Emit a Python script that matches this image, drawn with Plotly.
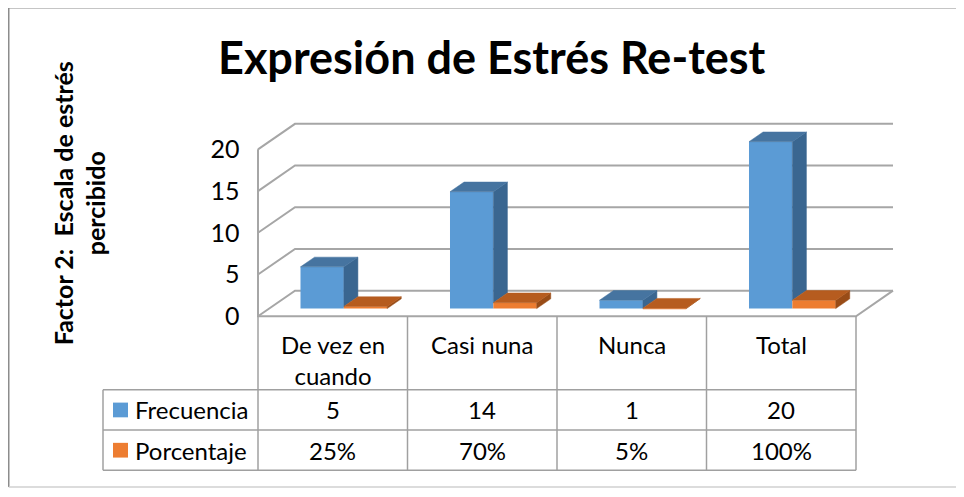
import plotly.graph_objects as go

# data
categorias = ["De vez en<br>cuando", "Casi nuna", "Nunca", "Total"]
frecuencia = [5, 14, 1, 20]
porcentaje = [0.25, 0.70, 0.05, 1.00]
porcentaje_txt = ["25%", "70%", "5%", "100%"]
series = ["Frecuencia", "Porcentaje"]
y_ticks = [0, 5, 10, 15, 20]

# page body has an 8px margin, so the figure is shifted by OFF
OFF = 8
W, H = 964 - OFF, 497 - OFF
FONT = "Lato"

# pseudo-3D layout (pixels of the front plane, page coordinates)
X0, COLW = 258, 149.5      # px of x=-0.5, px per category
Y0, UNIT = 322, 8.5        # px of value 0, px per unit
DX, DY = 37 / COLW, 26 / UNIT   # depth offset of back wall in data units
D0, D1 = 0.3, 0.68         # bar depth (front / back)
BW = 0.29                  # bar width

BLUE = dict(front="#5B9BD5", top="#4674A0", side="#3A6690")
ORANGE = dict(front="#ED7D31", top="#B65C1F", side="#994C17")
GRID = "#A6A6A6"


def px(x):
    return X0 + (x + 0.5) * COLW


def pxx(p):
    return (p - OFF) / W


def pyy(p):
    return 1 - (p - OFF) / H


def note(text, x, y, size, xanchor="center", yanchor="middle", **kw):
    return dict(text=text, x=x, y=y, xref="paper", yref="paper", showarrow=False,
                xanchor=xanchor, yanchor=yanchor,
                font=dict(size=size, color="#000000", family=FONT), **kw)


x_range = [-0.55, 3.8]
y_range = [-0.6, 23.5]

fig = go.Figure()

base = D0 * DY
xs = D0 * DX
ddx, ddy = (D1 - D0) * DX, (D1 - D0) * DY
idx = list(range(len(frecuencia)))

# front faces
fig.add_trace(go.Bar(x=idx, y=frecuencia, base=base, width=BW, offset=-BW + xs,
                     marker=dict(color=BLUE["front"], line=dict(width=0)),
                     name=series[0], hoverinfo="skip"))
fig.add_trace(go.Bar(x=idx, y=porcentaje, base=base, width=BW, offset=xs,
                     marker=dict(color=ORANGE["front"], line=dict(width=0)),
                     name=series[1], hoverinfo="skip"))


def faces(vals, lefts, floor_under):
    side_x, side_y, top_x, top_y = [], [], [], []
    for v, xl, fl in zip(vals, lefts, floor_under):
        xr = xl + BW
        side_x += [xr, xr + ddx, xr + ddx, xr, xr, None]
        side_y += [base + fl, base + fl + ddy, base + v + ddy, base + v, base + fl, None]
        top_x += [xl, xr, xr + ddx, xl + ddx, xl, None]
        top_y += [base + v, base + v, base + v + ddy, base + v + ddy, base + v, None]
    return side_x, side_y, top_x, top_y


def add_faces(vals, lefts, floor_under, col):
    sx, sy, tx, ty = faces(vals, lefts, floor_under)
    for xx, yy, c in [(sx, sy, col["side"]), (tx, ty, col["top"])]:
        fig.add_trace(go.Scatter(x=xx, y=yy, mode="lines", fill="toself",
                                 fillcolor=c, line=dict(color=c, width=0.5),
                                 hoverinfo="skip", showlegend=False))


# blue side is hidden below the orange bar next to it
add_faces(frecuencia, [i - BW + xs for i in idx], porcentaje, BLUE)
add_faces(porcentaje, [i + xs for i in idx], [0] * len(idx), ORANGE)

# walls, floor and gridlines
shapes = []
xl, xr = -0.5, len(idx) - 0.5
for t in y_ticks:
    shapes.append(dict(type="path", xref="x", yref="y", layer="below",
                       path=f"M{xl},{t} L{xl + DX},{t + DY} L{xr + DX},{t + DY}",
                       line=dict(color=GRID, width=2)))
shapes.append(dict(type="path", xref="x", yref="y", layer="below",
                   path=f"M{xl},{y_ticks[-1]} L{xl},0 L{xr},0 L{xr + DX},{DY}",
                   line=dict(color=GRID, width=2)))

# data table
t_top, r1, r2, r3 = 322, 397, 438, 479
leg_l = 103
tcol = "#A0A0A0"
for i in range(len(idx) + 1):
    xp = pxx(px(i - 0.5))
    shapes.append(dict(type="line", xref="paper", yref="paper", x0=xp, x1=xp,
                       y0=pyy(t_top), y1=pyy(r3), line=dict(color=tcol, width=1.5)))
shapes.append(dict(type="line", xref="paper", yref="paper", x0=pxx(leg_l), x1=pxx(leg_l),
                   y0=pyy(r1), y1=pyy(r3), line=dict(color=tcol, width=1.5)))
for r in [r1, r2, r3]:
    shapes.append(dict(type="line", xref="paper", yref="paper", x0=pxx(leg_l),
                       x1=pxx(px(xr)), y0=pyy(r), y1=pyy(r),
                       line=dict(color=tcol, width=1.5)))

annotations = []
fs = 24
for i, c in enumerate(categorias):
    annotations.append(note(c, pxx(px(i)), pyy(334), fs, yanchor="top"))
    annotations.append(note(str(frecuencia[i]), pxx(px(i)), pyy((r1 + r2) / 2), fs))
    annotations.append(note(porcentaje_txt[i], pxx(px(i)), pyy((r2 + r3) / 2), fs))

for name, col, (ra, rb) in [(series[0], BLUE, (r1, r2)), (series[1], ORANGE, (r2, r3))]:
    yc = (ra + rb) / 2
    shapes.append(dict(type="rect", xref="paper", yref="paper", x0=pxx(113), x1=pxx(128),
                       y0=pyy(yc - 7.5), y1=pyy(yc + 7.5), fillcolor=col["front"],
                       line=dict(width=0)))
    annotations.append(note(name, pxx(133), pyy(yc), fs, xanchor="left"))

# title and axis title
annotations.append(note("<b>Expresión de Estrés Re-test</b>", pxx(492), pyy(58), 45))
annotations.append(note("<b>Factor 2:\u00a0 Escala de estrés<br>percibido</b>",
                        pxx(79), pyy(207), 25, textangle=-90))

# chart frame: darker top/left edges, light bottom edge
shapes.append(dict(type="path", xref="paper", yref="paper", layer="below",
                   path=f"M1.02,{pyy(7.75)} L{pxx(8.75)},{pyy(7.75)} L{pxx(8.75)},{pyy(496)}",
                   line=dict(color="#8C8C8C", width=1.5)))
shapes.append(dict(type="line", xref="paper", yref="paper", layer="below",
                   x0=pxx(8.75), x1=1.02, y0=pyy(496), y1=pyy(496),
                   line=dict(color="#D0D0D0", width=1.5)))

fig.update_layout(
    width=W, height=H,
    margin=dict(l=0, r=0, t=0, b=0),
    paper_bgcolor="white", plot_bgcolor="rgba(0,0,0,0)",
    barmode="overlay", showlegend=False,
    font=dict(family=FONT, color="#000000"),
    xaxis=dict(range=x_range, domain=[pxx(px(x_range[0])), pxx(px(x_range[1]))],
               showgrid=False, zeroline=False, showline=False, showticklabels=False,
               fixedrange=True),
    yaxis=dict(range=y_range, domain=[pyy(Y0 - UNIT * y_range[0]), pyy(Y0 - UNIT * y_range[1])],
               tickvals=y_ticks, showgrid=False, zeroline=False, showline=False,
               ticks="", ticklabelstandoff=10, tickfont=dict(size=25, color="#000000", family=FONT),
               fixedrange=True),
    shapes=shapes,
    annotations=annotations,
)

fig.write_html("out.html")
